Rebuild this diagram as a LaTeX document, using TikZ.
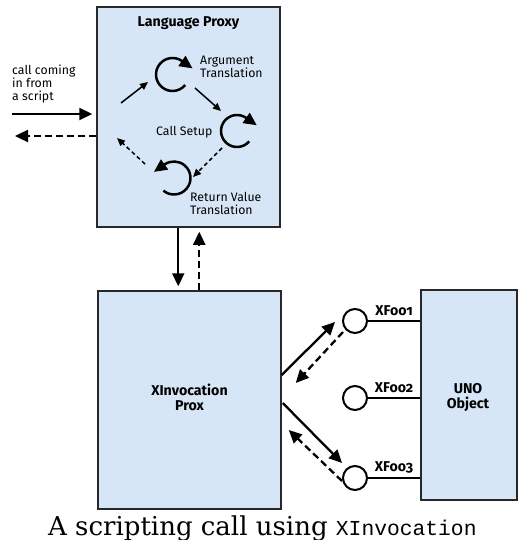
\documentclass[tikz,border=0pt]{standalone}
\usepackage{fontspec}
\setmainfont{Fira Sans}[Numbers=OldStyle]
\newfontfamily\capserif{DejaVu Serif}
\newfontfamily\capmono{Liberation Mono}
\usetikzlibrary{arrows.meta,calc}
\definecolor{boxfill}{RGB}{215,230,246}
\definecolor{boxline}{RGB}{40,40,40}
\begin{document}
\begin{tikzpicture}[x=1pt,y=-1pt,
  box/.style={draw=boxline, line width=1.5pt, fill=boxfill, rectangle, inner sep=0pt},
  iface/.style={circle, draw=black, line width=2pt, fill=white, minimum size=24pt, inner sep=0pt},
  big/.style={line width=2.3pt, -{Triangle[length=13pt,width=12pt]}},
  bigd/.style={big, dash pattern=on 7pt off 4pt},
  small/.style={line width=1.5pt, -{Triangle[length=8pt,width=7pt]}},
  smalld/.style={small, dash pattern=on 4pt off 3pt},
  cyc/.style={line width=2.5pt, -{Triangle[length=13pt,width=12pt]}},
  lbl/.style={inner sep=0pt, font=\fontsize{12.3}{13}\selectfont},
  blbl/.style={inner sep=0pt, font=\bfseries\fontsize{14.2}{15}\selectfont},
  stub/.style={line width=1.4pt},
]
\useasboundingbox (0,0) rectangle (518,540);

% boxes
\node[box, minimum width=183pt, minimum height=220pt] (lp) at (188.5,117) {};
\node[box, minimum width=183pt, minimum height=218pt] (xi) at (189.5,400) {};
\node[box, minimum width=96pt, minimum height=210pt] (uno) at (469,395) {};

% box titles
\node[blbl, anchor=base] (lpt) at (188.5,27) {Language Proxy};
\node[blbl, anchor=base] (xit1) at (189.5,395) {XInvocation};
\node[blbl, anchor=base] (xit2) at (189.5,410) {Prox};
\node[blbl, anchor=base] (unot1) at (468,393) {UNO};
\node[blbl, anchor=base] (unot2) at (468,408) {Object};

% left labels
\node[lbl, anchor=base west] (cc1) at (12,75) {call coming};
\node[lbl, anchor=base west] (cc2) at (12,88) {in from};
\node[lbl, anchor=base west] (cc3) at (12,101) {a script};

% inner labels
\node[lbl, anchor=base west] (ar1) at (200,65) {Argument};
\node[lbl, anchor=base west] (ar2) at (200,78) {Translation};
\node[lbl, anchor=base west] (cs1) at (156,136) {Call Setup};
\node[lbl, anchor=base west] (rv1) at (190,201) {Return Value};
\node[lbl, anchor=base west] (rv2) at (190,214) {Translation};

% cycle centres
\coordinate (ca) at (172.5,74.5);
\coordinate (cs) at (237,131);
\coordinate (cr) at (174,178);

% cycle arrows
\draw[cyc] ($(ca)+(40:16.5)$) arc[start angle=40, end angle=305, radius=16.5] -- ++(10.6,7.4);
\draw[cyc] ($(cs)+(40:16)$) arc[start angle=40, end angle=305, radius=16] -- ++(10.6,7.4);
\draw[cyc] ($(cr)+(-230:16.5)$) arc[start angle=-230, end angle=-485, radius=16.5] -- ++(-10.6,7.4);

% inner arrows
\draw[small] ([shift={(-51.5,28.5)}]ca) -- ([shift={(-24.5,7.5)}]ca);
\draw[small] ([shift={(22.5,13.5)}]ca) -- ([shift={(-16,-20)}]cs);
\draw[smalld] ([shift={(-15,17)}]cs) -- ([shift={(19,-1)}]cr);
\draw[smalld] ([shift={(-29,-14)}]cr) -- ([shift={(-55.5,63.5)}]ca);

% script side
\coordinate (src) at (12,114);
\coordinate (dst) at (15,136);
\draw[big, shorten >=4pt] (src) -- (src -| lp.west);
\draw[bigd] (dst -| lp.west) -- (dst);

% between proxies
\draw[big, shorten >=4pt] ([xshift=82pt]lp.south west) -- ([xshift=81pt]xi.north west);
\draw[bigd, shorten >=4pt] ([xshift=102pt]xi.north west) -- ([xshift=103pt]lp.south west);

% interfaces
\node[iface] (f1) at (355,321) {};
\node[iface] (f2) at (355,398) {};
\node[iface] (f3) at (355,478) {};
\draw[stub] (f1) -- node[blbl, above=4.5pt] (l1) {XFoo1} (f1 -| uno.west);
\draw[stub] (f2) -- node[blbl, above=4.5pt] (l2) {XFoo2} (f2 -| uno.west);
\draw[stub] (f3) -- node[blbl, above=4.5pt] (l3) {XFoo3} (f3 -| uno.west);

% invocation to interfaces
\draw[big] ([yshift=25pt]xi.east) -- ([shift={(-20,1)}]f1.center);
\draw[bigd] ([shift={(-12,11)}]f1.center) -- ([shift={(14,-17)}]xi.east);
\draw[big] ([shift={(1,3)}]xi.east) -- ([shift={(-13,-15)}]f3.center);
\draw[bigd] ([shift={(-13,3)}]f3.center) -- ([shift={(7,30)}]xi.east);

% caption
\node[anchor=base west, inner sep=0pt] (cap) at (48,535)
  {\capserif\fontsize{26}{30}\selectfont A scripting call using \capmono\fontsize{21.3}{24}\selectfont XInvocation};
\end{tikzpicture}
\end{document}
